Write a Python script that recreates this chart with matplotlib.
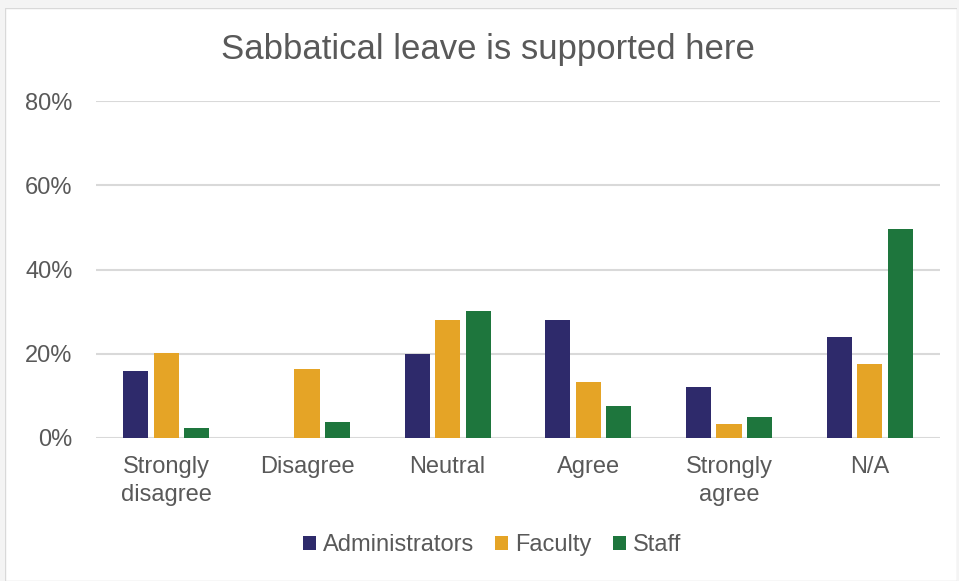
import numpy as np
import matplotlib.pyplot as plt
from matplotlib.patches import Rectangle
from matplotlib.ticker import FuncFormatter

categories = ['Strongly\ndisagree', 'Disagree', 'Neutral', 'Agree', 'Strongly\nagree', 'N/A']
administrators = [15.8, 0.0, 19.9, 27.9, 12.0, 24.0]
faculty = [20.2, 16.3, 28.1, 13.3, 3.4, 17.6]
staff = [2.4, 3.9, 30.1, 7.6, 4.9, 49.7]

series = [('Administrators', administrators, '#2E2A6B'),
          ('Faculty', faculty, '#E5A426'),
          ('Staff', staff, '#1E763D')]

plt.rcParams['font.family'] = ['Liberation Sans', 'DejaVu Sans']
text_color = '#595959'

fig = plt.figure(figsize=(9.59, 5.81), dpi=100)
fig.patch.set_facecolor('#F4F4F4')

# white chart area with thin border
bg = fig.add_axes([5 / 959, 0, 952 / 959, 573 / 581])
bg.add_patch(Rectangle((0, 0), 1, 1, transform=bg.transAxes, facecolor='white',
                       edgecolor='#D9D9D9', linewidth=1))
bg.set_axis_off()
bg.set_zorder(0)

ax = fig.add_axes([96 / 959, 1 - 438 / 581, 844 / 959, 337 / 581])
ax.set_zorder(1)
ax.patch.set_alpha(0)

x = np.arange(len(categories))
width = 0.178
step = 0.217
for i, (name, vals, color) in enumerate(series):
    ax.bar(x + (i - 1) * step, vals, width, color=color, label=name, zorder=3)

ax.set_xlim(-0.5, len(categories) - 0.5)
ax.set_ylim(0, 80)
ax.set_yticks([0, 20, 40, 60, 80])
ax.yaxis.set_major_formatter(FuncFormatter(lambda v, p: f'{v:.0f}%'))
ax.set_xticks(x)
ax.set_xticklabels(categories, fontsize=17, color=text_color, linespacing=1.35)
ax.tick_params(axis='y', labelsize=17, labelcolor=text_color, length=0, pad=17)
ax.tick_params(axis='x', length=0, pad=13)

ax.grid(axis='y', color='#D9D9D9', linewidth=1.5, zorder=0)
for s in ['top', 'right', 'left', 'bottom']:
    ax.spines[s].set_visible(False)

fig.text(488 / 959, 1 - 49 / 581, 'Sabbatical leave is supported here', ha='center', va='center',
         fontsize=25, color=text_color)

fig.legend(loc='center', bbox_to_anchor=(0.513, 1 - 545 / 581), ncol=3, frameon=False,
           fontsize=17, handlelength=0.55, handleheight=0.55, handletextpad=0.3,
           columnspacing=0.9, labelcolor=text_color)

fig.savefig('out.png', dpi=100, facecolor=fig.get_facecolor())
